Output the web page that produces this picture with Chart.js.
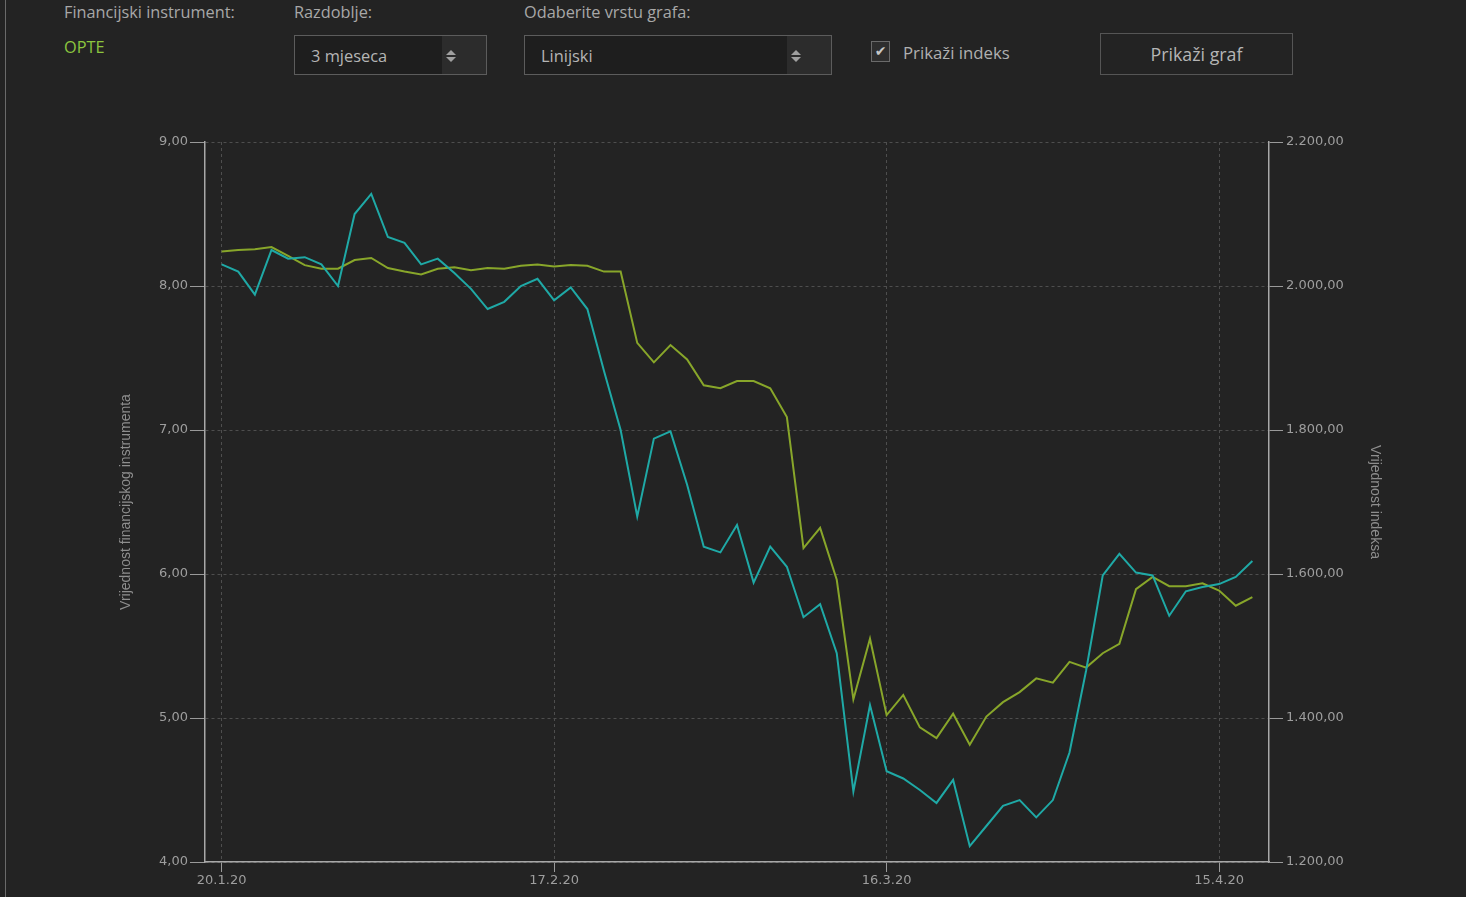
<!DOCTYPE html>
<html>
<head>
<meta charset="utf-8">
<script src="https://cdn.jsdelivr.net/npm/chart.js@4.4.1/dist/chart.umd.min.js"></script>
<style>
  html, body { margin: 0; padding: 0; background: #232323; }
  body { width: 1466px; height: 897px; position: relative; overflow: hidden; font-family: "Open Sans", sans-serif; }
  .edge { position: absolute; left: 5px; top: 0; width: 1px; height: 897px; background: #6a6a6a; }
  .lbl { position: absolute; color: #a8a8a8; font-size: 16.3px; line-height: 20px; white-space: nowrap; }
  .green { color: #8cc63f; }
  .sel { position: absolute; top: 35px; height: 40px; border: 1px solid #5c5c5c; background: #1e1e1e; box-sizing: border-box; }
  .sel span { position: absolute; left: 16px; top: 10px; color: #b5b5b5; font-size: 16.4px; line-height: 20px; }
  .sel .arr { position: absolute; right: 0; top: 0; width: 44px; height: 38px; background: #2c2c2c; }
  .arr i { position: absolute; left: 4px; width: 0; height: 0; border-left: 5px solid transparent; border-right: 5px solid transparent; }
  .arr i.up { top: 14px; border-bottom: 5px solid #a0a0a0; }
  .arr i.dn { top: 21px; border-top: 5px solid #a0a0a0; }
  .chk { position: absolute; left: 871px; top: 41px; width: 19px; height: 21px; border: 1px solid #6a6a6a; background: #2e2e2e; box-sizing: border-box; color: #c8c8c8; font-size: 14px; line-height: 19px; text-align: center; font-family: "DejaVu Sans", sans-serif; }
  .btn { position: absolute; left: 1100px; top: 33px; width: 193px; height: 42px; border: 1px solid #555; box-sizing: border-box; color: #b5b5b5; font-size: 17.8px; line-height: 40px; text-align: center; }
  #wrap { position: absolute; left: 0; top: 0; width: 1466px; height: 897px; }
</style>
</head>
<body>
<div class="edge"></div>

<div class="lbl" style="left:64px; top:2px;">Financijski instrument:</div>
<div class="lbl green" style="left:64px; top:37px;">OPTE</div>

<div class="lbl" style="left:294px; top:2px;">Razdoblje:</div>
<div class="sel" style="left:294px; width:193px;"><span>3 mjeseca</span><div class="arr"><i class="up"></i><i class="dn"></i></div></div>

<div class="lbl" style="left:524px; top:2px;">Odaberite vrstu grafa:</div>
<div class="sel" style="left:524px; width:308px;"><span>Linijski</span><div class="arr"><i class="up"></i><i class="dn"></i></div></div>

<div class="chk">✔</div>
<div class="lbl" style="left:903px; top:43px; color:#b0b0b0; font-size:16.8px;">Prikaži indeks</div>

<div class="btn">Prikaži graf</div>

<div id="wrap"><canvas id="myChart"></canvas></div>

<script>
// trading days, 20.1.2020 - 17.4.2020
const dates = [
  '20.1.20', '21.1.20', '22.1.20', '23.1.20', '24.1.20', '27.1.20', '28.1.20', '29.1.20', '30.1.20', '31.1.20',
  '3.2.20', '4.2.20', '5.2.20', '6.2.20', '7.2.20', '10.2.20', '11.2.20', '12.2.20', '13.2.20', '14.2.20',
  '17.2.20', '18.2.20', '19.2.20', '20.2.20', '21.2.20', '24.2.20', '25.2.20', '26.2.20', '27.2.20', '28.2.20',
  '2.3.20', '3.3.20', '4.3.20', '5.3.20', '6.3.20', '9.3.20', '10.3.20', '11.3.20', '12.3.20', '13.3.20',
  '16.3.20', '17.3.20', '18.3.20', '19.3.20', '20.3.20', '23.3.20', '24.3.20', '25.3.20', '26.3.20', '27.3.20',
  '30.3.20', '31.3.20', '1.4.20', '2.4.20', '3.4.20', '6.4.20', '7.4.20', '8.4.20', '9.4.20', '14.4.20',
  '15.4.20', '16.4.20', '17.4.20'
];

// OPTE closing price (left axis)
const instrument = [
  8.15, 8.10, 7.94, 8.25, 8.19, 8.20, 8.15, 8.00, 8.50, 8.64,
  8.34, 8.30, 8.15, 8.19, 8.09, 7.98, 7.84, 7.89, 8.00, 8.05,
  7.90, 7.99, 7.84, 7.41, 7.00, 6.40, 6.94, 6.99, 6.62, 6.19,
  6.15, 6.34, 5.94, 6.19, 6.05, 5.70, 5.79, 5.45, 4.49, 5.09,
  4.63, 4.58, 4.50, 4.41, 4.57, 4.11, 4.25, 4.39, 4.43, 4.31,
  4.43, 4.76, 5.33, 5.99, 6.14, 6.01, 5.99, 5.71, 5.88, 5.91,
  5.93, 5.98, 6.09
];

// index value (right axis)
const indexValues = [
  2048, 2050, 2051, 2054, 2042, 2029, 2024, 2024, 2036, 2039,
  2025, 2020, 2016, 2024, 2026, 2022, 2025, 2024, 2028, 2030,
  2027, 2029, 2028, 2020, 2020, 1921, 1894, 1918, 1898, 1862,
  1858, 1868, 1868, 1858, 1818, 1636, 1664, 1592, 1426, 1510,
  1404, 1432, 1387, 1372, 1406, 1363, 1402, 1422, 1436, 1455,
  1449, 1478, 1470, 1490, 1503, 1579, 1596, 1583, 1583, 1587,
  1577, 1556, 1568
];

const dateTicks = [0, 20, 40, 60];
const leftTicks = [4, 5, 6, 7, 8, 9];
const rightTicks = [1200, 1400, 1600, 1800, 2000, 2200];

function fmt2(v) {
  const parts = v.toFixed(2).split('.');
  const int = parts[0].replace(/\B(?=(\d{3})+(?!\d))/g, '.');
  return int + ',' + parts[1];
}

const ctx = document.getElementById('myChart');
const tickFont = { family: 'DejaVu Sans', size: 13 };
const titleFont = { family: 'Liberation Sans', size: 14 };

new Chart(ctx, {
  type: 'line',
  data: {
    datasets: [{
      label: 'OPTE',
      data: instrument.map((v, i) => ({ x: i, y: v })),
      yAxisID: 'y',
      borderColor: '#1fa9a6',
      borderWidth: 2,
      pointRadius: 0,
      tension: 0
    }, {
      label: 'Indeks',
      data: indexValues.map((v, i) => ({ x: i, y: v })),
      yAxisID: 'y2',
      borderColor: '#88a62a',
      borderWidth: 2,
      pointRadius: 0,
      tension: 0
    }]
  },
  options: {
    responsive: true,
    maintainAspectRatio: false,
    animation: false,
    layout: { padding: { left: 100, top: 142, right: 77, bottom: 0 } },
    plugins: { legend: { display: false }, tooltip: { enabled: false } },
    scales: {
      x: {
        type: 'linear',
        min: -1,
        max: 63,
        afterBuildTicks: s => { s.ticks = dateTicks.map(v => ({ value: v })); },
        afterFit: s => { s.height = 35; },
        ticks: {
          autoSkip: false,
          maxRotation: 0,
          padding: 1,
          color: '#9e9e9e',
          font: tickFont,
          callback: v => dates[v]
        },
        grid: { color: '#4e4e4e', tickColor: '#9a9a9a', tickLength: 10 },
        border: { color: '#a8a8a8', width: 1.5, dash: [3, 3] }
      },
      y: {
        position: 'left',
        min: 4,
        max: 9,
        afterBuildTicks: s => { s.ticks = leftTicks.map(v => ({ value: v })); },
        afterFit: s => { s.width = 105; },
        ticks: { color: '#9e9e9e', font: tickFont, padding: 2, callback: v => fmt2(v) },
        grid: { color: '#4e4e4e', tickColor: '#9a9a9a', tickLength: 15 },
        border: { color: '#a8a8a8', width: 1.5, dash: [3, 3] },
        title: {
          display: true,
          text: 'Vrijednost financijskog instrumenta',
          color: '#8e8e8e',
          font: titleFont,
          padding: { top: 18, bottom: 0 }
        }
      },
      y2: {
        position: 'right',
        min: 1200,
        max: 2200,
        afterBuildTicks: s => { s.ticks = rightTicks.map(v => ({ value: v })); },
        afterFit: s => { s.width = 120; },
        ticks: { color: '#9e9e9e', font: tickFont, padding: 3, callback: v => fmt2(v) },
        grid: { drawOnChartArea: false, tickColor: '#9a9a9a', tickLength: 14 },
        border: { color: '#a8a8a8', width: 1.5 },
        title: {
          display: true,
          text: 'Vrijednost indeksa',
          color: '#8e8e8e',
          font: titleFont,
          padding: { top: 6, bottom: 0 }
        }
      }
    }
  }
});
</script>
</body>
</html>
